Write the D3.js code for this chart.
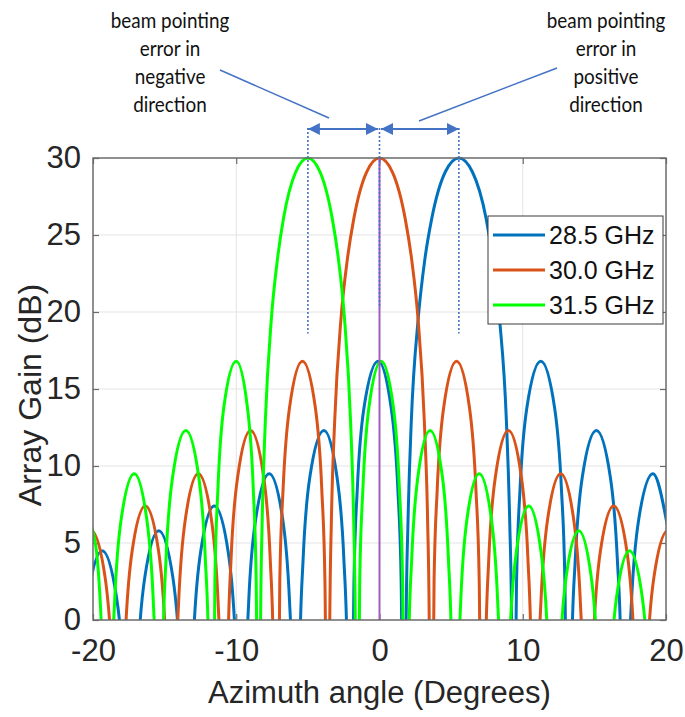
<!DOCTYPE html>
<meta charset="utf-8">

<!-- Load d3.js -->
<script src="https://d3js.org/d3.v7.min.js"></script>

<style>
  body { margin: 0; background: #fff; }
</style>

<!-- Create a div where the graph will take place -->
<div id="my_dataviz"></div>

<script>

    // series names (legend order) and colours
    var seriesNames = ["28.5 GHz", "30.0 GHz", "31.5 GHz"];
    var seriesColors = ["#0072BD", "#D95319", "#00FF00"];

    // [azimuth angle (deg), array gain (dB)]
    // points below 0 dB sit in the nulls and are clipped away
    var gain285 = [
      [-21.10,-9.7],[-20.85,-3.8],[-20.35,1.5],[-19.36,4.5],[-18.36,1.5],[-17.86,-3.8],[-17.61,-9.7],[-17.36,-20],
      [-17.12,-8.4],[-16.87,-2.5],[-16.38,2.8],[-15.41,5.8],[-14.43,2.8],[-13.94,-2.5],[-13.69,-8.4],[-13.45,-20],
      [-13.21,-6.8],[-12.97,-0.9],[-12.49,4.4],[-11.53,7.4],[-10.56,4.4],[-10.08,-0.9],[-9.84,-6.8],[-9.60,-20],
      [-9.36,-4.7],[-9.13,1.2],[-8.65,6.5],[-7.70,9.5],[-6.75,6.5],[-6.28,1.2],[-6.04,-4.7],[-5.80,-20],
      [-5.56,-1.9],[-5.33,4.0],[-4.86,9.3],[-3.88,12.3],[-2.97,9.3],[-2.49,4.0],[-2.26,-1.9],[-2.02,-20],
      [-1.78,2.6],[-1.55,8.5],[-1.08,13.8],[-0.10,16.8],[0.81,13.8],[1.28,8.5],[1.51,2.6],[1.75,-20],
      [1.86,0],[1.99,6.4],[2.22,12.9],[2.70,19.55],[3.17,23.45],[3.65,26.08],[4.59,29.09],[5.54,30],
      [6.49,29.09],[7.44,26.08],[7.91,23.45],[8.38,19.55],[8.86,12.9],[9.09,6.4],[9.22,0],[9.33,-20],
      [9.57,2.6],[9.81,8.5],[10.29,13.8],[11.26,16.8],[12.22,13.8],[12.70,8.5],[12.94,2.6],[13.18,-20],
      [13.42,-1.9],[13.67,4.0],[14.16,9.3],[15.14,12.3],[16.11,9.3],[16.60,4.0],[16.85,-1.9],[17.09,-20],
      [17.34,-4.7],[17.59,1.2],[18.09,6.5],[19.09,9.5],[20.08,6.2]
    ];

    var gain300 = [
      [-21.07,2.8],[-20.12,5.8],[-19.16,2.8],[-18.69,-2.5],[-18.45,-8.4],[-18.21,-20],
      [-17.98,-6.8],[-17.74,-0.9],[-17.28,4.4],[-16.35,7.4],[-15.41,4.4],[-14.95,-0.9],[-14.71,-6.8],[-14.48,-20],
      [-14.25,-4.7],[-14.02,1.2],[-13.56,6.5],[-12.65,9.5],[-11.73,6.5],[-11.27,1.2],[-11.04,-4.7],[-10.81,-20],
      [-10.58,-1.9],[-10.36,4.0],[-9.90,9.3],[-9.00,12.3],[-8.09,9.3],[-7.63,4.0],[-7.41,-1.9],[-7.18,-20],
      [-6.96,2.6],[-6.73,8.5],[-6.28,13.8],[-5.38,16.8],[-4.48,13.8],[-4.03,8.5],[-3.81,2.6],[-3.58,-20],
      [-3.47,0],[-3.36,6.4],[-3.13,12.9],[-2.69,19.55],[-2.24,23.45],[-1.79,26.08],[-0.90,29.09],[0,30],
      [0.90,29.09],[1.79,26.08],[2.24,23.45],[2.69,19.55],[3.13,12.9],[3.36,6.4],[3.47,0],[3.58,-20],
      [3.81,2.6],[4.03,8.5],[4.48,13.8],[5.38,16.8],[6.28,13.8],[6.73,8.5],[6.96,2.6],[7.18,-20],
      [7.41,-1.9],[7.63,4.0],[8.09,9.3],[9.00,12.3],[9.90,9.3],[10.36,4.0],[10.58,-1.9],[10.81,-20],
      [11.04,-4.7],[11.27,1.2],[11.73,6.5],[12.65,9.5],[13.56,6.5],[14.02,1.2],[14.25,-4.7],[14.48,-20],
      [14.71,-6.8],[14.95,-0.9],[15.41,4.4],[16.35,7.4],[17.28,4.4],[17.74,-0.9],[17.98,-6.8],[18.21,-20],
      [18.45,-8.4],[18.69,-2.5],[19.16,2.8],[20.12,5.8],[21.07,2.8]
    ];

    var gain315 = [
      [-20.75,7.4],[-19.84,5.0],[-19.39,-0.9],[-19.17,-6.8],[-18.94,-20],
      [-18.72,-4.7],[-18.49,1.2],[-18.04,6.5],[-17.12,9.5],[-16.24,6.5],[-15.79,1.2],[-15.57,-4.7],[-15.34,-20],
      [-15.12,-1.9],[-14.90,4.0],[-14.44,9.3],[-13.52,12.3],[-12.62,9.3],[-12.16,4.0],[-11.93,-1.9],[-11.70,-20],
      [-11.49,2.6],[-11.28,8.5],[-10.87,13.8],[-10.00,16.8],[-9.22,13.8],[-8.81,8.5],[-8.61,2.6],[-8.40,-20],
      [-8.30,0],[-8.19,6.4],[-7.97,12.9],[-7.55,19.55],[-7.12,23.45],[-6.70,26.08],[-5.85,29.09],[-5.00,30],
      [-4.15,29.09],[-3.30,26.08],[-2.87,23.45],[-2.44,19.55],[-2.02,12.9],[-1.80,6.4],[-1.69,0],[-1.59,-20],
      [-1.38,2.6],[-1.16,8.5],[-0.74,13.8],[0.12,16.8],[0.97,13.8],[1.39,8.5],[1.61,2.6],[1.82,-20],
      [2.03,-1.9],[2.25,4.0],[2.68,9.3],[3.53,12.3],[4.39,9.3],[4.81,4.0],[5.03,-1.9],[5.24,-20],
      [5.46,-4.7],[5.67,1.2],[6.10,6.5],[6.96,9.5],[7.82,6.5],[8.25,1.2],[8.47,-4.7],[8.68,-20],
      [8.90,-6.8],[9.11,-0.9],[9.55,4.4],[10.42,7.4],[11.28,4.4],[11.72,-0.9],[11.93,-6.8],[12.15,-20],
      [12.37,-8.4],[12.59,-2.5],[13.03,2.8],[13.91,5.8],[14.78,2.8],[15.22,-2.5],[15.44,-8.4],[15.66,-20],
      [15.88,-9.7],[16.11,-3.8],[16.55,1.5],[17.45,4.5],[18.34,1.5],[18.78,-3.8],[19.01,-9.7],[19.23,-20],
      [20.5,-5]
    ];

    // ticks and grid
    var xTicks = [-20, -10, 0, 10, 20];
    var yTicks = [0, 5, 10, 15, 20, 25, 30];
    var xGrid = [-10, 0, 10];
    var yGrid = [5, 10, 15, 20, 25];

    // beam peaks marked by the annotation (deg) and where their dotted markers stop (dB)
    var peakAngles = [-5.00, 0, 5.54];
    var markerEnds = [18.6, 20.4, 18.6];

    var noteLeft = ["beam pointing", "error in", "negative", "direction"];
    var noteRight = ["beam pointing", "error in", "positive", "direction"];

    // set the dimensions and margins of the graph
    var margin = {top: 158, right: 19, bottom: 97, left: 93},
        width = 685 - margin.left - margin.right,
        height = 717 - margin.top - margin.bottom;

    var root = d3.select("#my_dataviz")
      .append("svg")
        .attr("width", 685)
        .attr("height", 717);

    var svg = root.append("g")
        .attr("transform", "translate(" + margin.left + "," + margin.top + ")");

    var x = d3.scaleLinear().domain([-20, 20]).range([0, width]);
    var y = d3.scaleLinear().domain([0, 30]).range([height, 0]);

    var axisGray = "#6b6b6b", textCol = "#262626", noteBlue = "#4472C4";
    var font = "'Liberation Sans', Arial, sans-serif";

    // grid
    svg.append("g").selectAll("line").data(xGrid).enter().append("line")
      .attr("x1", d => x(d)).attr("x2", d => x(d))
      .attr("y1", 0).attr("y2", height)
      .attr("stroke", "#e3e3e3").attr("stroke-width", 1);
    svg.append("g").selectAll("line").data(yGrid).enter().append("line")
      .attr("x1", 0).attr("x2", width)
      .attr("y1", d => y(d)).attr("y2", d => y(d))
      .attr("stroke", "#e3e3e3").attr("stroke-width", 1);

    // axes (ticks pointing inwards, box on); plain hyphen for negatives like MATLAB
    var plain = d => String(d);
    function styleAxis(g) {
      g.select(".domain").remove();
      g.selectAll(".tick line").attr("stroke", axisGray).attr("stroke-width", 1.2);
      g.selectAll(".tick text").attr("fill", textCol)
        .style("font-family", font).style("font-size", "31px");
    }
    svg.append("g")
      .attr("transform", "translate(0," + height + ")")
      .call(d3.axisBottom(x).tickValues(xTicks).tickFormat(plain).tickSizeInner(-6).tickSizeOuter(0).tickPadding(16))
      .call(styleAxis)
      .selectAll(".tick text").attr("dy", "0.8em");
    svg.append("g")
      .call(d3.axisTop(x).tickValues(xTicks).tickSizeInner(-6).tickSizeOuter(0).tickFormat(""))
      .call(styleAxis);
    svg.append("g")
      .call(d3.axisLeft(y).tickValues(yTicks).tickFormat(plain).tickSizeInner(-6).tickSizeOuter(0).tickPadding(12))
      .call(styleAxis);
    svg.append("g")
      .attr("transform", "translate(" + width + ",0)")
      .call(d3.axisRight(y).tickValues(yTicks).tickSizeInner(-6).tickSizeOuter(0).tickFormat(""))
      .call(styleAxis);

    // clip the curves to the plot box
    svg.append("clipPath").attr("id", "plotClip")
      .append("rect").attr("x", 0).attr("y", -2).attr("width", width).attr("height", height + 2);

    var line = d3.line()
      .x(d => x(d[0]))
      .y(d => y(d[1]))
      .curve(d3.curveMonotoneX);

    var allSeries = [gain285, gain300, gain315];
    svg.append("g").attr("clip-path", "url(#plotClip)")
      .selectAll("path").data(allSeries).enter().append("path")
        .attr("d", line)
        .attr("fill", "none")
        .attr("stroke", (d, i) => seriesColors[i])
        .attr("stroke-width", 3)
        .attr("stroke-linejoin", "round");

    // purple boresight line
    svg.append("line")
      .attr("x1", x(0)).attr("x2", x(0))
      .attr("y1", y(30)).attr("y2", y(0))
      .attr("stroke", "#a05cc0").attr("stroke-width", 2);

    // plot box
    svg.append("rect")
      .attr("width", width).attr("height", height)
      .attr("fill", "none").attr("stroke", axisGray).attr("stroke-width", 1.5);

    // legend
    var leg = svg.append("g").attr("transform", "translate(" + (width - 178) + ",58)");
    leg.append("rect").attr("width", 175).attr("height", 108)
      .attr("fill", "#fff").attr("stroke", "#3a3a3a").attr("stroke-width", 1);
    seriesNames.forEach(function(name, i) {
      var ly = 19 + i * 35;
      leg.append("line").attr("x1", 5).attr("x2", 57).attr("y1", ly).attr("y2", ly)
        .attr("stroke", seriesColors[i]).attr("stroke-width", 3);
      leg.append("text").attr("x", 61).attr("y", ly).attr("dy", "0.36em")
        .attr("fill", "#111").style("font-family", font).style("font-size", "25px")
        .text(name);
    });

    // axis labels
    root.append("text")
      .attr("x", margin.left + x(0)).attr("y", 703)
      .attr("text-anchor", "middle").attr("fill", textCol)
      .style("font-family", font).style("font-size", "31px")
      .text("Azimuth angle (Degrees)");
    root.append("text")
      .attr("transform", "translate(41," + (margin.top + height / 2 + 6) + ") rotate(-90)")
      .attr("text-anchor", "middle").attr("fill", textCol)
      .style("font-family", font).style("font-size", "32px")
      .text("Array Gain (dB)");

    // annotation: dotted peak markers and beam pointing arrows
    var defs = root.append("defs");
    defs.append("marker").attr("id", "arrowHead")
      .attr("viewBox", "0 0 10 10").attr("refX", 10).attr("refY", 5)
      .attr("markerWidth", 12).attr("markerHeight", 12).attr("markerUnits", "userSpaceOnUse")
      .attr("orient", "auto-start-reverse")
      .append("path").attr("d", "M0,0L10,5L0,10Z").attr("fill", noteBlue);

    peakAngles.forEach(function(a, i) {
      svg.append("line")
        .attr("x1", x(a)).attr("x2", x(a))
        .attr("y1", -30).attr("y2", y(markerEnds[i]))
        .attr("stroke", noteBlue).attr("stroke-width", 1.6)
        .attr("stroke-dasharray", "2,2");
    });
    [[peakAngles[0], peakAngles[1]], [peakAngles[1], peakAngles[2]]].forEach(function(p, i) {
      svg.append("line")
        .attr("x1", x(p[0]) + (i ? 1.5 : 0)).attr("x2", x(p[1]) - (i ? 0 : 1.5))
        .attr("y1", -29).attr("y2", -29)
        .attr("stroke", noteBlue).attr("stroke-width", 2)
        .attr("marker-start", "url(#arrowHead)")
        .attr("marker-end", "url(#arrowHead)");
    });

    // pointer lines from the notes to the arrows
    root.append("line").attr("x1", 220).attr("y1", 70).attr("x2", 329).attr("y2", 118)
      .attr("stroke", noteBlue).attr("stroke-width", 1.5);
    root.append("line").attr("x1", 557).attr("y1", 68).attr("x2", 419).attr("y2", 121)
      .attr("stroke", noteBlue).attr("stroke-width", 1.5);

    // the notes, slightly condensed to mimic the narrow original font
    function note(lines, cx) {
      root.append("g")
        .attr("transform", "translate(" + cx + ",0) scale(0.9,1)")
        .append("text")
          .attr("text-anchor", "middle").attr("fill", "#111")
          .style("font-family", "Lato, 'Open Sans', sans-serif").style("font-size", "21px")
          .selectAll("tspan").data(lines).enter().append("tspan")
            .attr("x", 0).attr("y", (d, i) => 28 + i * 28)
            .text(d => d);
    }
    note(noteLeft, 170);
    note(noteRight, 606);

</script>
